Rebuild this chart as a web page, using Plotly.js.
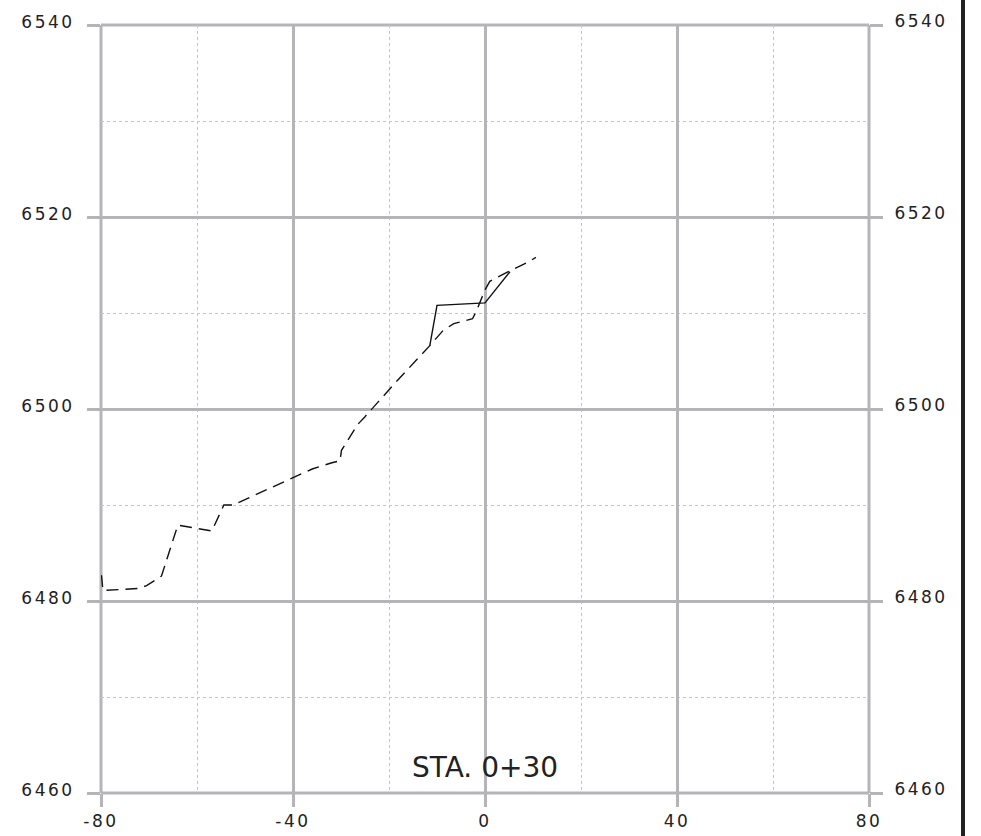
<!DOCTYPE html>
<html>
<head>
<meta charset="utf-8">
<script src="https://cdn.plot.ly/plotly-3.0.1.min.js"></script>
<style>
  html, body { margin: 0; padding: 0; background: #fff; }
  #chart { width: 981px; height: 836px; }
  .xtick text, .ytick text, .y2tick text { letter-spacing: 2.5px; }
</style>
</head>
<body>
<div id="chart"></div>
<script>
// Existing ground profile (dashed)
const groundOffset = [-79.9, -79.6, -72.3, -70.5, -67.4, -64.0, -56.9, -54.4, -52.5, -36.0, -31.9, -30.2, -29.9, -28.8, -26.5, -25.0, -18.75, -11.5, -8.7, -6.5, -2.6, -1.8, 0.0, 1.0, 2.8, 5.2, 9.0, 10.6];
const groundElev   = [6482.7, 6481.1, 6481.3, 6481.6, 6482.6, 6487.9, 6487.3, 6490.0, 6490.0, 6493.75, 6494.4, 6494.6, 6495.7, 6496.6, 6498.4, 6499.2, 6502.7, 6506.6, 6508.2, 6508.9, 6509.4, 6510.2, 6512.4, 6513.3, 6513.8, 6514.4, 6515.3, 6515.8];

// Design section (solid)
const designOffset = [-11.5, -10.0, 0.0, 5.2];
const designElev   = [6506.6, 6510.8, 6511.05, 6514.3];

// Axis ticks
const xTicks = [-80, -40, 0, 40, 80];
const yTicks = [6460, 6480, 6500, 6520, 6540];
const stationLabel = "STA. 0+30";

const gridMajor = '#b5b5b9';
const gridMinor = '#c4c4c4';
const textCol = '#222222';
const tickFont = {family: 'DejaVu Sans', size: 17, color: textCol};

const traces = [
  {
    x: groundOffset, y: groundElev, type: 'scatter', mode: 'lines',
    line: {color: '#111', width: 1.4, dash: '12px,7px'},
    hoverinfo: 'skip', showlegend: false
  },
  {
    x: designOffset, y: designElev, type: 'scatter', mode: 'lines',
    line: {color: '#111', width: 1.4},
    hoverinfo: 'skip', showlegend: false
  },
  {
    x: [0], y: [6500], yaxis: 'y2', type: 'scatter', mode: 'markers',
    marker: {opacity: 0}, hoverinfo: 'skip', showlegend: false
  }
];

const border = (x0, x1, y0, y1) => ({
  type: 'line', xref: 'paper', yref: 'paper', x0, x1, y0, y1,
  line: {color: gridMajor, width: 3}, layer: 'below'
});

const layout = {
  width: 981, height: 836,
  margin: {l: 101, r: 112, t: 25, b: 43},
  paper_bgcolor: '#fff', plot_bgcolor: '#fff',
  showlegend: false,
  xaxis: {
    range: [-80, 80], tickvals: xTicks, ticktext: xTicks.map(String),
    showgrid: true, gridcolor: gridMajor, gridwidth: 3,
    minor: {dtick: 20, tick0: -80, showgrid: true, gridcolor: gridMinor, gridwidth: 1, griddash: 'dot', ticks: ''},
    zeroline: false, showline: false,
    ticks: 'outside', ticklen: 13, tickwidth: 3, tickcolor: gridMajor,
    tickfont: tickFont, ticklabelstandoff: 0
  },
  yaxis: {
    range: [6460, 6540], tickvals: yTicks, ticktext: yTicks.map(String),
    showgrid: true, gridcolor: gridMajor, gridwidth: 3,
    minor: {dtick: 10, tick0: 6460, showgrid: true, gridcolor: gridMinor, gridwidth: 1, griddash: 'dot', ticks: ''},
    zeroline: false, showline: false,
    ticks: 'outside', ticklen: 13, tickwidth: 3, tickcolor: gridMajor,
    tickfont: tickFont, ticklabelstandoff: 9, ticklabelshift: -3
  },
  yaxis2: {
    range: [6460, 6540], tickvals: yTicks, ticktext: yTicks.map(String),
    overlaying: 'y', side: 'right', showgrid: false, zeroline: false, showline: false,
    ticks: 'outside', ticklen: 13, tickwidth: 3, tickcolor: gridMajor,
    tickfont: tickFont, ticklabelstandoff: 8, ticklabelshift: -4
  },
  annotations: [{
    x: 0, y: 6462.7, xref: 'x', yref: 'y', text: stationLabel, showarrow: false,
    font: {family: 'DejaVu Sans', size: 28, color: textCol}, xanchor: 'center', yanchor: 'middle'
  }],
  shapes: [
    border(0, 0, 0, 1),
    border(1, 1, 0, 1),
    border(0, 1, 0, 0),
    border(0, 1, 1, 1),
    {
      type: 'line', xref: 'paper', yref: 'paper',
      x0: (963 - 101) / 768, x1: (963 - 101) / 768, y0: -0.06, y1: 1.04,
      line: {color: '#222', width: 4}
    }
  ]
};

Plotly.newPlot('chart', traces, layout, {displayModeBar: false, staticPlot: true});
</script>
</body>
</html>
